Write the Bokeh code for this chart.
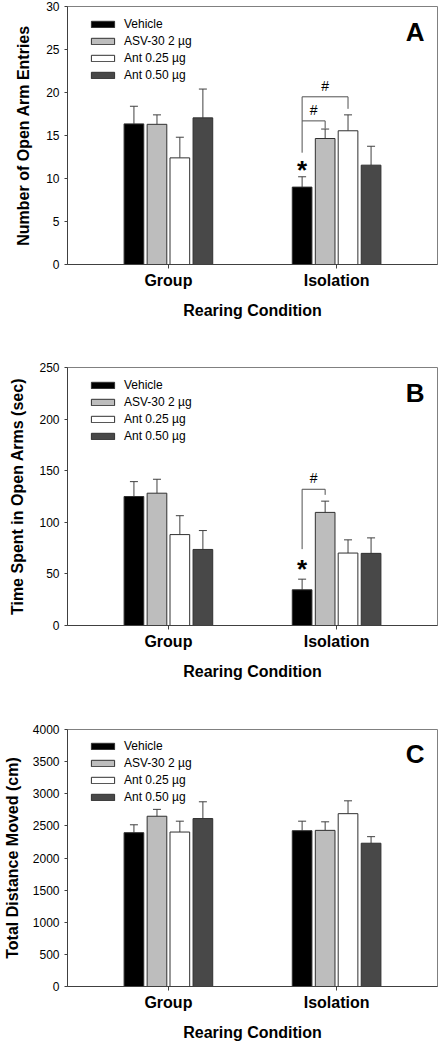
from bokeh.plotting import figure
from bokeh.models import (ColumnDataSource, FactorRange, Range1d, FixedTicker,
                          Whisker, TeeHead, Label)
from bokeh.transform import dodge
from bokeh.layouts import column
from bokeh.embed import file_html
from bokeh.resources import INLINE
from bokeh.core.properties import value

# ---------------- data ----------------
conditions = ["Group", "Isolation"]
series = ["Vehicle", "ASV-30 2 \u00b5g", "Ant 0.25 \u00b5g", "Ant 0.50 \u00b5g"]

# Panel A: Number of Open Arm Entries (mean, SEM) per condition
a_vehicle = [16.35, 9.0]
a_asv = [16.3, 14.65]
a_ant025 = [12.4, 15.55]
a_ant050 = [17.05, 11.55]
a_vehicle_sem = [2.05, 1.2]
a_asv_sem = [1.1, 1.1]
a_ant025_sem = [2.4, 1.85]
a_ant050_sem = [3.35, 2.2]

# Panel B: Time Spent in Open Arms (sec)
b_vehicle = [125.0, 34.6]
b_asv = [128.2, 109.6]
b_ant025 = [88.1, 70.2]
b_ant050 = [73.7, 69.9]
b_vehicle_sem = [14.4, 10.3]
b_asv_sem = [13.5, 10.9]
b_ant025_sem = [18.3, 12.8]
b_ant050_sem = [18.3, 15.0]

# Panel C: Total Distance Moved (cm)
c_vehicle = [2394, 2425]
c_asv = [2650, 2430]
c_ant025 = [2404, 2690]
c_ant050 = [2614, 2230]
c_vehicle_sem = [123, 148]
c_asv_sem = [107, 133]
c_ant025_sem = [169, 200]
c_ant050_sem = [261, 102]

# significance marks: (condition, series index, y)
a_stars = [("Isolation", 0, 11.0)]
b_stars = [("Isolation", 0, 54.5)]
# brackets: (condition, from series, to series, y left end, y top, y right end, y of '#')
a_brackets = [("Isolation", 0, 1, 13.0, 16.7, 15.8, 18.0),
              ("Isolation", 0, 2, 16.7, 19.5, 18.1, 20.8)]
b_brackets = [("Isolation", 0, 1, 74.0, 132.0, 126.6, 143.0)]

# ---------------- styling ----------------
colors = ["#000000", "#bdbdbd", "#ffffff", "#484848"]
offsets = [-0.205, -0.068, 0.068, 0.205]
BAR_W = 0.117
FONT = "Liberation Sans"
FRAME_H = 259
FRAME_W = 375


def make_panel(letter, ylabel, ymax, ystep, means, sems, stars, brackets,
               height, border_top, border_bottom, ylab_standoff):
    p = figure(x_range=FactorRange(*conditions, range_padding=0.1),
               y_range=Range1d(0, ymax), width=438, height=height,
               output_backend="svg", toolbar_location=None,
               min_border_left=62, min_border_right=1,
               min_border_top=border_top, min_border_bottom=border_bottom)
    p.xgrid.visible = False
    p.ygrid.visible = False
    p.outline_line_color = "#808080"
    p.background_fill_color = "white"
    p.border_fill_color = "white"

    for i, (name, m, s) in enumerate(zip(series, means, sems)):
        src = ColumnDataSource(dict(cond=conditions, val=m,
                                    hi=[a + b for a, b in zip(m, s)]))
        x = dodge("cond", offsets[i], range=p.x_range)
        p.vbar(x=x, top="val", bottom=0, width=BAR_W, source=src,
               fill_color=colors[i], line_color="#303030", line_width=1,
               legend_label=name)
        p.add_layout(Whisker(source=src, base=x, lower="val", upper="hi",
                             dimension="height", line_color="#404040",
                             line_width=1, lower_head=None,
                             upper_head=TeeHead(size=8, line_color="#404040",
                                                line_width=1)))

    for cond, si, y in stars:
        src = ColumnDataSource(dict(c=[cond], y=[y], t=["*"]))
        p.text(x=dodge("c", offsets[si], range=p.x_range), y="y", text="t",
               source=src, text_font=value(FONT), text_font_size="26px",
               text_font_style="bold", text_align="center",
               text_baseline="middle", text_color="black")

    for cond, i, j, yl, yt, yr, yh in brackets:
        src = ColumnDataSource(dict(c=[cond], yl=[yl], yt=[yt], yr=[yr],
                                    yh=[yh], t=["#"]))
        xi = dodge("c", offsets[i], range=p.x_range)
        xj = dodge("c", offsets[j], range=p.x_range)
        xm = dodge("c", (offsets[i] + offsets[j]) / 2, range=p.x_range)
        for x0, y0, x1, y1 in [(xi, "yl", xi, "yt"), (xi, "yt", xj, "yt"),
                               (xj, "yt", xj, "yr")]:
            p.segment(x0=x0, y0=y0, x1=x1, y1=y1, source=src,
                      line_color="#505050", line_width=1)
        p.text(x=xm, y="yh", text="t", source=src, text_font=value(FONT),
               text_font_size="14px", text_align="center",
               text_baseline="middle", text_color="black")

    # legend
    lg = p.legend[0]
    lg.location = (21, FRAME_H - 12 - 65)
    lg.orientation = "vertical"
    lg.background_fill_alpha = 0
    lg.border_line_alpha = 0
    lg.padding = 0
    lg.margin = 0
    lg.spacing = 3
    lg.glyph_width = 29
    lg.glyph_height = 8
    lg.label_height = 12
    lg.label_standoff = 7
    lg.label_text_font = FONT
    lg.label_text_font_size = "12px"
    lg.label_text_color = "black"

    # panel letter
    p.add_layout(Label(x=FRAME_W - 18, y=FRAME_H - 26, x_units="screen",
                       y_units="screen", text=letter, text_align="right",
                       text_baseline="middle", text_font=FONT,
                       text_font_size="26px", text_font_style="bold",
                       text_color="black"))

    # axes
    p.yaxis.ticker = FixedTicker(ticks=list(range(0, ymax + 1, ystep)))
    p.yaxis.axis_label = ylabel
    p.yaxis.axis_label_text_font = FONT
    p.yaxis.axis_label_text_font_size = "16px"
    p.yaxis.axis_label_text_font_style = "bold"
    p.yaxis.axis_label_text_color = "black"
    p.yaxis.axis_label_standoff = ylab_standoff
    p.yaxis.major_label_text_font = FONT
    p.yaxis.major_label_text_font_size = "12px"
    p.yaxis.major_label_text_color = "black"
    p.yaxis.major_label_standoff = 5
    p.yaxis.major_tick_out = 3
    p.yaxis.major_tick_in = 0
    p.yaxis.minor_tick_line_color = None
    p.yaxis.axis_line_color = "#404040"
    p.yaxis.major_tick_line_color = "#404040"

    p.xaxis.axis_label = "Rearing Condition"
    p.xaxis.axis_label_text_font = FONT
    p.xaxis.axis_label_text_font_size = "16px"
    p.xaxis.axis_label_text_font_style = "bold"
    p.xaxis.axis_label_text_color = "black"
    p.xaxis.axis_label_standoff = 10
    p.xaxis.major_label_text_font = FONT
    p.xaxis.major_label_text_font_size = "16px"
    p.xaxis.major_label_text_font_style = "bold"
    p.xaxis.major_label_text_color = "black"
    p.xaxis.major_label_standoff = 3
    p.xaxis.major_tick_out = 4
    p.xaxis.major_tick_in = 0
    p.xaxis.axis_line_color = "#404040"
    p.xaxis.major_tick_line_color = "#404040"
    return p


pa = make_panel("A", "Number of Open Arm Entries", 30, 5,
                [a_vehicle, a_asv, a_ant025, a_ant050],
                [a_vehicle_sem, a_asv_sem, a_ant025_sem, a_ant050_sem],
                a_stars, a_brackets, height=321, border_top=6,
                border_bottom=56, ylab_standoff=11)
pb = make_panel("B", "Time Spent in Open Arms (sec)", 250, 50,
                [b_vehicle, b_asv, b_ant025, b_ant050],
                [b_vehicle_sem, b_asv_sem, b_ant025_sem, b_ant050_sem],
                b_stars, b_brackets, height=361, border_top=46,
                border_bottom=56, ylab_standoff=10)
pc = make_panel("C", "Total Distance Moved (cm)", 4000, 500,
                [c_vehicle, c_asv, c_ant025, c_ant050],
                [c_vehicle_sem, c_asv_sem, c_ant025_sem, c_ant050_sem],
                [], [], height=361, border_top=47, border_bottom=55,
                ylab_standoff=9)

layout = column(pa, pb, pc, spacing=0)
open("out.html", "w").write(file_html(layout, INLINE))
